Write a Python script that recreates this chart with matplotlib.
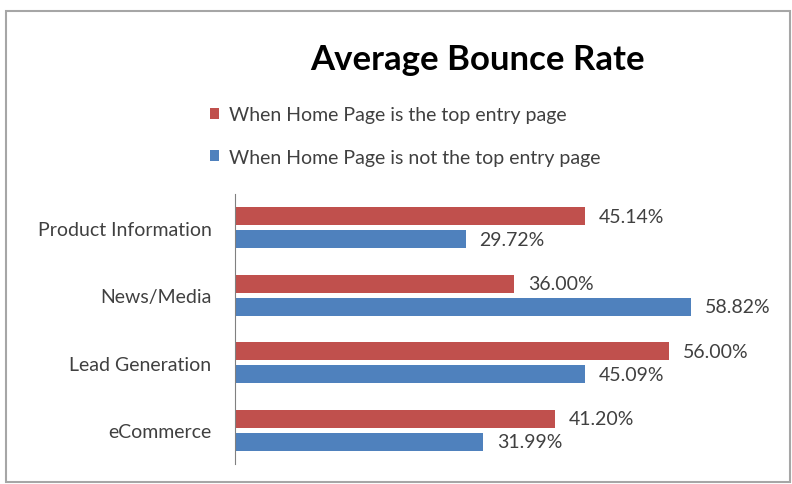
import matplotlib.pyplot as plt
import numpy as np
from matplotlib.patches import Rectangle

# datos del grafico
categorias = ["Product Information", "News/Media", "Lead Generation", "eCommerce"]
home_top = [45.14, 36.00, 56.00, 41.20]
home_not_top = [29.72, 58.82, 45.09, 31.99]
etiquetas = ["When Home Page is the top entry page",
             "When Home Page is not the top entry page"]

ROJO = "#C0504D"
AZUL = "#4F81BD"
TEXTO = "#404040"

plt.rcParams['font.family'] = ['Lato', 'DejaVu Sans']

fig = plt.figure(figsize=(7.92, 4.85), dpi=100)
ax = fig.add_axes([235 / 792, 1 - 465 / 485, 543 / 792, 270 / 485])

y = np.arange(len(categorias))
alto = 0.267
desp = 0.17
b1 = ax.barh(y - desp, home_top, height=alto, color=ROJO, label=etiquetas[0])
b2 = ax.barh(y + desp, home_not_top, height=alto, color=AZUL, label=etiquetas[1])

for barras in (b1, b2):
    ax.bar_label(barras, labels=[f"{v:.2f}%" for v in barras.datavalues],
                 padding=10, fontsize=14, color=TEXTO)

ax.set_xlim(0, 70)
ax.set_ylim(3.5, -0.5)
ax.set_yticks(y)
ax.set_yticklabels(categorias, fontsize=14, color=TEXTO)
ax.tick_params(axis='y', length=0, pad=17)
ax.set_xticks([])
for lado in ("top", "right", "bottom"):
    ax.spines[lado].set_visible(False)
ax.spines["left"].set_color("#808080")

fig.text(477 / 792, 1 - 60 / 485, "Average Bounce Rate", ha="center", va="center",
         fontsize=25, fontweight="bold", color="black")

fig.legend(handles=[b1, b2], labels=etiquetas, loc="upper left",
           bbox_to_anchor=(192 / 792, 1 - 90 / 485), frameon=False,
           handlelength=0.5, handleheight=0.5, handletextpad=0.5,
           labelspacing=1.3, fontsize=14, labelcolor=TEXTO)

# marco exterior
fig.patches.append(Rectangle((6 / 792, 2 / 485), 1 - 8 / 792, 1 - 14 / 485,
                             transform=fig.transFigure, fill=False,
                             edgecolor="#a6a6a6", linewidth=1.5))

fig.savefig("out.png", dpi=100)
plt.close(fig)
